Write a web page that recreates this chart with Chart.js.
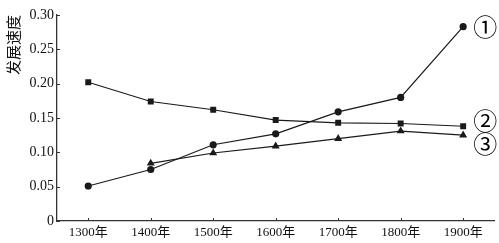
<!DOCTYPE html>
<html>
<head>
<meta charset="utf-8">
<script src="https://cdn.jsdelivr.net/npm/chart.js@4.4.1/dist/chart.umd.min.js"></script>
<style>
  html, body { margin: 0; padding: 0; background: #fff; }
  #wrap { width: 499px; height: 243px; position: relative; }
</style>
</head>
<body>
<div id="wrap"><canvas id="chart"></canvas></div>
<script>
// Chart data
const years = ['1300年', '1400年', '1500年', '1600年', '1700年', '1800年', '1900年'];
const seriesOne = [0.051, 0.075, 0.111, 0.127, 0.159, 0.180, 0.283];
const seriesTwo = [0.202, 0.174, 0.162, 0.147, 0.143, 0.142, 0.138];
const seriesThree = [null, 0.084, 0.099, 0.109, 0.120, 0.131, 0.125];
const seriesMarks = ['①', '②', '③'];
const yTicks = [0, 0.05, 0.10, 0.15, 0.20, 0.25, 0.30];

const ink = '#1a1a1a';
const serif = "'Liberation Serif', 'Noto Sans CJK SC', serif";

// Small tick marks inside the axes and the circled series labels
const decorPlugin = {
    id: 'decor',
    afterDatasetsDraw(chart) {
        const ctx = chart.ctx;
        const x = chart.scales.x;
        const y = chart.scales.y;
        const area = chart.chartArea;
        ctx.save();
        ctx.strokeStyle = '#333';
        ctx.lineWidth = 1;
        yTicks.forEach(v => {
            const py = Math.round(y.getPixelForValue(v)) + 0.5;
            ctx.beginPath();
            ctx.moveTo(area.left, py);
            ctx.lineTo(area.left + 3, py);
            ctx.stroke();
        });
        years.forEach((_, i) => {
            const px = Math.round(x.getPixelForValue(i)) + 0.5;
            ctx.beginPath();
            ctx.moveTo(px, area.bottom);
            ctx.lineTo(px, area.bottom - 3);
            ctx.stroke();
        });

        // circled labels next to the last point of each line
        ctx.fillStyle = '#000';
        ctx.font = "24px 'Noto Sans CJK SC'";
        ctx.textAlign = 'center';
        ctx.textBaseline = 'middle';
        const shifts = [0, -5, 9];
        chart.data.datasets.forEach((ds, i) => {
            const meta = chart.getDatasetMeta(i);
            const last = meta.data[meta.data.length - 1];
            ctx.fillText(seriesMarks[i], last.x + 22, last.y + shifts[i]);
        });
        ctx.restore();
    }
};

const lineStyle = {
    borderColor: ink,
    backgroundColor: ink,
    borderWidth: 1.2,
    pointBorderWidth: 0,
    tension: 0,
    spanGaps: false
};

new Chart(document.getElementById('chart'), {
    type: 'line',
    data: {
        labels: years,
        datasets: [
            { ...lineStyle, label: seriesMarks[0], data: seriesOne, pointStyle: 'circle', pointRadius: 3.6 },
            { ...lineStyle, label: seriesMarks[1], data: seriesTwo, pointStyle: 'rect', pointRadius: 4.2 },
            { ...lineStyle, label: seriesMarks[2], data: seriesThree, pointStyle: 'triangle', pointRadius: 4.6 }
        ]
    },
    options: {
        responsive: true,
        maintainAspectRatio: false,
        animation: false,
        layout: { padding: { top: 15, right: 4, bottom: 0, left: 4 } },
        plugins: {
            legend: { display: false },
            tooltip: { enabled: false }
        },
        scales: {
            x: {
                offset: true,
                grid: { display: false, drawTicks: false },
                border: { color: '#333', width: 1.3 },
                ticks: {
                    color: '#111',
                    padding: 4,
                    maxRotation: 0,
                    font: { family: serif, size: 13 }
                },
                afterFit(scale) { scale.height = 22; }
            },
            y: {
                min: 0,
                max: 0.30,
                afterBuildTicks(scale) {
                    scale.ticks = yTicks.map(v => ({ value: v }));
                },
                grid: { display: false, drawTicks: false },
                border: { color: '#333', width: 1.3 },
                ticks: {
                    color: '#111',
                    padding: 3,
                    font: { family: serif, size: 14 },
                    callback: v => v === 0 ? '0' : v.toFixed(2)
                },
                title: {
                    display: true,
                    text: '发展速度',
                    align: 'end',
                    color: '#111',
                    padding: { top: 0, bottom: 2 },
                    font: { family: "'Noto Sans CJK SC'", size: 15 }
                },
                afterFit(scale) { scale.width = 53; }
            }
        }
    },
    plugins: [decorPlugin]
});
</script>
</body>
</html>
